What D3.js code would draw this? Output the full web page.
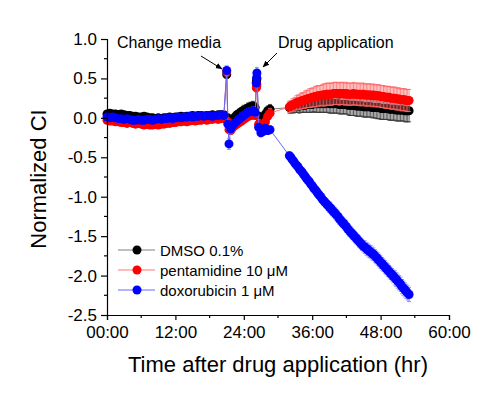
<!doctype html>
<html>
<head>
<meta charset="utf-8">
<script src="https://cdn.jsdelivr.net/npm/d3@7"></script>
<style>
  body { margin: 0; background: #fff; }
  text { font-family: Arial, "Liberation Sans", sans-serif; fill: #000; }
</style>
</head>
<body>
<div id="chart"></div>
<script>
// time points (hours) - regular readings before and after the interventions
var timeEarly = d3.range(0, 20.75, 0.5);
var timeMedia = [21.0, 21.2, 21.4, 21.7, 22.0, 22.4, 22.8, 23.2, 23.6, 24.0, 24.4, 24.8,
                 25.2, 25.6, 26.0, 26.2, 26.25, 26.3, 26.6, 27.0, 27.4, 27.8, 28.2, 28.6];
var timeLate = d3.range(32, 53.1, 0.25);

// DMSO 0.1%
var dmsoEarly = [0.05,0.06,0.05,0.05,0.04,0.05,0.04,0.03,0.03,0.02,
                 0.02,0.01,0.01,0.02,0.01,0.00,0.00,-0.01,0.00,-0.01,
                 0.00,0.00,0.01,0.00,0.01,0.01,0.02,0.01,0.02,0.02,
                 0.03,0.02,0.03,0.03,0.02,0.03,0.03,0.04,0.03,0.04,
                 0.04,0.04];
var dmsoMedia = [0.55,0.00,-0.06,-0.05,-0.02,0.01,0.04,0.06,0.08,0.10,0.11,0.13,
                 0.14,0.15,0.13,0.45,0.48,0.50,0.02,-0.03,0.00,0.05,0.09,0.11];
var dmsoLate = [0.13,0.13,0.14,0.14,0.15,0.15,0.15,0.15,0.16,0.16,
                0.16,0.16,0.17,0.17,0.17,0.17,0.17,0.18,0.18,0.18,
                0.18,0.18,0.18,0.18,0.18,0.18,0.19,0.19,0.18,0.18,
                0.18,0.18,0.18,0.18,0.18,0.17,0.17,0.17,0.17,0.17,
                0.17,0.16,0.16,0.16,0.16,0.16,0.16,0.15,0.15,0.15,
                0.15,0.15,0.14,0.14,0.14,0.14,0.14,0.14,0.13,0.13,
                0.13,0.13,0.13,0.13,0.12,0.12,0.12,0.12,0.12,0.12,
                0.11,0.11,0.11,0.11,0.11,0.10,0.10,0.10,0.10,0.10,
                0.10,0.09,0.09,0.09,0.09];
var dmsoErrEarly = [0.03,0.03,0.03,0.03,0.03,0.03,0.03,0.03,0.03,0.03,
                    0.03,0.03,0.03,0.03,0.03,0.03,0.03,0.03,0.03,0.03,
                    0.03,0.03,0.03,0.03,0.03,0.03,0.03,0.03,0.03,0.03,
                    0.03,0.03,0.03,0.03,0.03,0.03,0.03,0.03,0.03,0.03,
                    0.03,0.03];
var dmsoErrMedia = [0.05,0.04,0.05,0.05,0.05,0.05,0.05,0.05,0.05,0.06,0.06,0.06,
                    0.06,0.06,0.06,0.05,0.05,0.05,0.05,0.06,0.06,0.06,0.06,0.06];
var dmsoErrLate = [0.07,0.07,0.07,0.08,0.08,0.08,0.08,0.09,0.09,0.09,
                   0.09,0.09,0.10,0.10,0.10,0.10,0.10,0.10,0.11,0.11,
                   0.11,0.11,0.11,0.11,0.11,0.11,0.12,0.12,0.12,0.12,
                   0.12,0.12,0.12,0.12,0.12,0.12,0.12,0.12,0.12,0.12,
                   0.12,0.12,0.13,0.13,0.13,0.13,0.13,0.13,0.13,0.13,
                   0.13,0.13,0.13,0.13,0.13,0.13,0.13,0.13,0.13,0.13,
                   0.13,0.14,0.14,0.14,0.14,0.14,0.14,0.14,0.14,0.14,
                   0.14,0.14,0.14,0.14,0.14,0.14,0.14,0.14,0.14,0.14,
                   0.14,0.14,0.14,0.14,0.14];

// pentamidine 10 uM
var pentEarly = [-0.03,-0.04,-0.04,-0.05,-0.05,-0.06,-0.06,-0.07,-0.06,-0.07,
                 -0.08,-0.07,-0.08,-0.09,-0.08,-0.09,-0.09,-0.08,-0.09,-0.08,
                 -0.08,-0.07,-0.07,-0.06,-0.06,-0.05,-0.05,-0.04,-0.05,-0.04,
                 -0.03,-0.04,-0.03,-0.03,-0.02,-0.03,-0.02,-0.02,-0.01,-0.02,
                 -0.01,-0.01];
var pentMedia = [0.58,-0.05,-0.15,-0.16,-0.13,-0.10,-0.08,-0.06,-0.04,-0.02,0.00,0.02,
                 0.03,0.04,0.03,0.38,0.40,0.42,-0.08,-0.12,-0.10,-0.05,0.02,0.06];
var pentLate = [0.14,0.15,0.16,0.17,0.18,0.19,0.20,0.20,0.21,0.22,
                0.22,0.23,0.24,0.24,0.25,0.25,0.26,0.26,0.27,0.27,
                0.28,0.28,0.28,0.29,0.29,0.29,0.30,0.30,0.30,0.30,
                0.30,0.31,0.31,0.31,0.31,0.30,0.31,0.31,0.31,0.30,
                0.31,0.30,0.30,0.30,0.30,0.31,0.30,0.30,0.30,0.30,
                0.29,0.30,0.30,0.29,0.29,0.29,0.29,0.29,0.28,0.29,
                0.28,0.28,0.28,0.28,0.27,0.27,0.27,0.26,0.26,0.26,
                0.26,0.25,0.25,0.25,0.25,0.24,0.24,0.24,0.23,0.23,
                0.23,0.23,0.22,0.22,0.22];
var pentErrEarly = [0.04,0.04,0.04,0.04,0.04,0.04,0.04,0.04,0.04,0.04,
                    0.04,0.04,0.04,0.04,0.04,0.04,0.04,0.04,0.04,0.04,
                    0.04,0.04,0.04,0.04,0.04,0.04,0.04,0.04,0.04,0.04,
                    0.04,0.04,0.04,0.04,0.04,0.04,0.04,0.04,0.04,0.04,
                    0.04,0.04];
var pentErrMedia = [0.05,0.05,0.05,0.05,0.05,0.05,0.05,0.05,0.05,0.05,0.05,0.05,
                    0.05,0.05,0.05,0.05,0.05,0.05,0.06,0.06,0.06,0.06,0.06,0.06];
var pentErrLate = [0.07,0.07,0.08,0.08,0.08,0.09,0.09,0.09,0.10,0.10,
                   0.10,0.11,0.11,0.11,0.12,0.12,0.12,0.12,0.13,0.13,
                   0.13,0.13,0.13,0.13,0.14,0.14,0.14,0.14,0.14,0.14,
                   0.14,0.14,0.14,0.14,0.14,0.14,0.14,0.14,0.14,0.14,
                   0.14,0.14,0.14,0.14,0.14,0.14,0.14,0.14,0.14,0.14,
                   0.14,0.14,0.14,0.14,0.14,0.14,0.14,0.14,0.14,0.14,
                   0.14,0.14,0.14,0.14,0.14,0.14,0.14,0.14,0.14,0.14,
                   0.14,0.14,0.14,0.14,0.14,0.14,0.14,0.14,0.14,0.14,
                   0.14,0.14,0.14,0.14,0.14];

// doxorubicin 1 uM
var doxoEarly = [0.01,0.00,0.01,0.00,-0.01,-0.01,-0.02,-0.01,-0.02,-0.03,
                 -0.03,-0.02,-0.03,-0.03,-0.02,-0.02,-0.03,-0.02,-0.01,-0.02,
                 -0.01,-0.01,0.00,-0.01,0.00,0.01,0.00,0.01,0.01,0.02,
                 0.01,0.02,0.02,0.03,0.02,0.03,0.03,0.02,0.03,0.03,
                 0.04,0.03];
var doxoMedia = [0.60,-0.08,-0.33,-0.14,-0.10,-0.07,-0.04,-0.02,0.01,0.03,0.05,0.07,
                 0.08,0.09,0.07,0.44,0.51,0.57,-0.12,-0.19,-0.17,-0.13,-0.16,-0.15];
var doxoLate = [-0.48,-0.50,-0.53,-0.55,-0.58,-0.60,-0.62,-0.65,-0.67,-0.69,
                -0.72,-0.74,-0.77,-0.79,-0.81,-0.84,-0.86,-0.89,-0.91,-0.93,
                -0.96,-0.98,-1.00,-1.03,-1.05,-1.07,-1.09,-1.11,-1.13,-1.15,
                -1.17,-1.19,-1.21,-1.23,-1.25,-1.28,-1.30,-1.32,-1.34,-1.36,
                -1.38,-1.41,-1.43,-1.45,-1.47,-1.49,-1.51,-1.53,-1.55,-1.57,
                -1.59,-1.61,-1.63,-1.64,-1.66,-1.67,-1.69,-1.70,-1.72,-1.73,
                -1.75,-1.77,-1.79,-1.81,-1.83,-1.85,-1.87,-1.89,-1.91,-1.93,
                -1.95,-1.97,-1.99,-2.01,-2.03,-2.05,-2.07,-2.09,-2.11,-2.14,
                -2.16,-2.18,-2.20,-2.22,-2.24];
var doxoErrEarly = [0.03,0.03,0.03,0.03,0.03,0.03,0.03,0.03,0.03,0.03,
                    0.03,0.03,0.03,0.03,0.03,0.03,0.03,0.03,0.03,0.03,
                    0.03,0.03,0.03,0.03,0.03,0.03,0.03,0.03,0.03,0.03,
                    0.03,0.03,0.03,0.03,0.03,0.03,0.03,0.03,0.03,0.03,
                    0.03,0.03];
var doxoErrMedia = [0.06,0.05,0.07,0.05,0.05,0.05,0.05,0.05,0.05,0.05,0.05,0.05,
                    0.05,0.05,0.05,0.05,0.05,0.07,0.05,0.05,0.05,0.05,0.05,0.05];
var doxoErrLate = [0.05,0.05,0.05,0.05,0.05,0.05,0.05,0.05,0.05,0.05,
                   0.06,0.06,0.06,0.06,0.06,0.06,0.06,0.06,0.06,0.06,
                   0.06,0.06,0.06,0.06,0.06,0.06,0.06,0.06,0.07,0.07,
                   0.07,0.07,0.07,0.07,0.07,0.07,0.07,0.07,0.07,0.07,
                   0.07,0.07,0.07,0.07,0.07,0.07,0.07,0.07,0.07,0.07,
                   0.07,0.07,0.07,0.08,0.08,0.08,0.08,0.08,0.08,0.08,
                   0.08,0.08,0.08,0.08,0.08,0.08,0.08,0.08,0.08,0.08,
                   0.08,0.08,0.08,0.08,0.09,0.09,0.09,0.09,0.09,0.09,
                   0.09,0.09,0.09,0.09,0.09];

var seriesNames = ["DMSO 0.1%", "pentamidine 10 \u03bcM", "doxorubicin 1 \u03bcM"];
var xTickLabels = ["00:00", "12:00", "24:00", "36:00", "48:00", "60:00"];

// build series from the arrays above
var hours = timeEarly.concat(timeMedia, timeLate);
function build(a, b, c, ea, eb, ec) {
  var v = a.concat(b, c), e = ea.concat(eb, ec);
  return hours.map(function(t, i) { return { t: t, v: v[i], e: e[i] }; });
}
var series = [
  { name: seriesNames[0], fill: "#000000", line: "#808080", err: "#333333",
    data: build(dmsoEarly, dmsoMedia, dmsoLate, dmsoErrEarly, dmsoErrMedia, dmsoErrLate) },
  { name: seriesNames[1], fill: "#ff0000", line: "#ff7777", err: "#ff6666",
    data: build(pentEarly, pentMedia, pentLate, pentErrEarly, pentErrMedia, pentErrLate) },
  { name: seriesNames[2], fill: "#0000ff", line: "#6666ff", err: "#7777ff",
    data: build(doxoEarly, doxoMedia, doxoLate, doxoErrEarly, doxoErrMedia, doxoErrLate) }
];

var width = 500, height = 403;
var svg = d3.select("#chart").append("svg")
  .attr("width", width).attr("height", height);

var x = d3.scaleLinear().domain([0, 60]).range([107, 449]);
var y = d3.scaleLinear().domain([-2.5, 1.0]).range([315, 39]);

// arrow head for annotations
svg.append("defs").append("marker")
  .attr("id", "arrow").attr("viewBox", "0 0 10 10")
  .attr("refX", 9).attr("refY", 5)
  .attr("markerWidth", 7).attr("markerHeight", 7)
  .attr("orient", "auto")
  .append("path").attr("d", "M0,1 L10,5 L0,9 Z").attr("fill", "#000");

// series: line, error bars, symbols
var line = d3.line().x(function(d) { return x(d.t); }).y(function(d) { return y(d.v); });
series.forEach(function(s) {
  var g = svg.append("g");
  g.append("path").datum(s.data)
    .attr("d", line).attr("fill", "none")
    .attr("stroke", s.line).attr("stroke-width", 1);
  var eb = g.selectAll(".eb").data(s.data).enter().append("g");
  eb.append("line")
    .attr("x1", function(d) { return x(d.t); }).attr("x2", function(d) { return x(d.t); })
    .attr("y1", function(d) { return y(d.v - d.e); }).attr("y2", function(d) { return y(d.v + d.e); })
    .attr("stroke", s.err).attr("stroke-width", 0.8);
  [1, -1].forEach(function(sign) {
    eb.append("line")
      .attr("x1", function(d) { return x(d.t) - 2; }).attr("x2", function(d) { return x(d.t) + 2; })
      .attr("y1", function(d) { return y(d.v + sign * d.e); })
      .attr("y2", function(d) { return y(d.v + sign * d.e); })
      .attr("stroke", s.err).attr("stroke-width", 0.8);
  });
  g.selectAll("circle").data(s.data).enter().append("circle")
    .attr("cx", function(d) { return x(d.t); })
    .attr("cy", function(d) { return y(d.v); })
    .attr("r", 4.5).attr("fill", s.fill);
});

// axes
var yAxis = d3.axisLeft(y).tickValues(d3.range(-2.5, 1.01, 0.5))
  .tickFormat(function(d) { return d3.format(".1f")(d).replace("\u2212", "-"); })
  .tickSize(6).tickPadding(4);
var yg = svg.append("g").attr("transform", "translate(107,0)").call(yAxis);
yg.selectAll(".tick line").attr("stroke", "#000").attr("stroke-width", 1.2);
yg.select(".domain").attr("stroke", "#000").attr("stroke-width", 1.2);
yg.append("g").selectAll("line").data(d3.range(-2.25, 1, 0.5)).enter().append("line")
  .attr("x1", 0).attr("x2", -3).attr("y1", y).attr("y2", y)
  .attr("stroke", "#000").attr("stroke-width", 1.2);

var xAxis = d3.axisBottom(x).tickValues(d3.range(0, 61, 12))
  .tickFormat(function(d, i) { return xTickLabels[i]; })
  .tickSize(5).tickPadding(6);
var xg = svg.append("g").attr("transform", "translate(0,315)").call(xAxis);
xg.selectAll(".tick line").attr("stroke", "#000").attr("stroke-width", 1.2);
xg.select(".domain").attr("stroke", "#000").attr("stroke-width", 1.2);
xg.append("g").selectAll("line").data(d3.range(6, 60, 12)).enter().append("line")
  .attr("x1", x).attr("x2", x).attr("y1", 0).attr("y2", 3)
  .attr("stroke", "#000").attr("stroke-width", 1.2);

svg.selectAll(".tick text").attr("font-size", 17)
  .attr("font-family", "Arial, 'Liberation Sans', sans-serif").attr("fill", "#000");

// axis titles
svg.append("text").attr("x", 278).attr("y", 372)
  .attr("text-anchor", "middle").attr("font-size", 22)
  .text("Time after drug application (hr)");
svg.append("text").attr("transform", "translate(46,179) rotate(-90)")
  .attr("text-anchor", "middle").attr("font-size", 22)
  .text("Normalized CI");

// annotations
svg.append("text").attr("x", 117).attr("y", 48).attr("font-size", 16).text("Change media");
svg.append("line").attr("x1", 201).attr("y1", 56).attr("x2", 222).attr("y2", 69)
  .attr("stroke", "#000").attr("marker-end", "url(#arrow)");
svg.append("text").attr("x", 278).attr("y", 48).attr("font-size", 16).text("Drug application");
svg.append("line").attr("x1", 277).attr("y1", 53).attr("x2", 263).attr("y2", 67)
  .attr("stroke", "#000").attr("marker-end", "url(#arrow)");

// legend
var legend = svg.append("g").attr("transform", "translate(118,250)");
series.forEach(function(s, i) {
  var row = legend.append("g").attr("transform", "translate(0," + (i * 20) + ")");
  row.append("line").attr("x1", 0).attr("x2", 37).attr("y1", 0).attr("y2", 0)
    .attr("stroke", s.line).attr("stroke-width", 1);
  row.append("circle").attr("cx", 19).attr("cy", 0).attr("r", 4.5).attr("fill", s.fill);
  row.append("text").attr("x", 42).attr("y", 5.5).attr("font-size", 15).text(s.name);
});
</script>
</body>
</html>
